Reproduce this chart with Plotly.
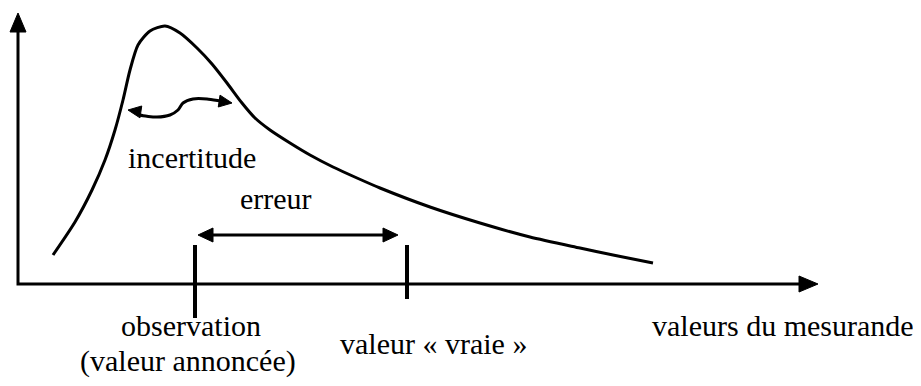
import numpy as np
import plotly.graph_objects as go

# Diagram coordinates (pixel-like units, y downward)
curve_x = [53, 75, 92, 105, 115, 123, 130, 138, 150, 165, 180, 197, 212, 227, 242, 255, 270, 290, 310, 333, 357, 380, 430, 480, 530, 580, 613, 653]
curve_y = [255, 222, 190, 160, 130, 100, 70, 45, 31, 26, 33, 48, 64, 83, 103, 118, 130, 143, 155, 167, 178, 188, 207, 223, 237, 248, 255, 263]

axis_x = [18, 18, 800]
axis_y = [30, 284, 284]

unc_x = [133, 140, 157, 170, 178, 183, 193, 207, 220, 226]
unc_y = [111, 115, 117, 115, 110, 103, 99, 99, 101, 102]

err_x = [212, 384]
err_y = [235, 235]

obs_tick_x = [195, 195]
obs_tick_y = [245, 318]
true_tick_x = [407, 407]
true_tick_y = [245, 299]

labels = ["incertitude", "erreur", "observation", "(valeur annoncée)", "valeur « vraie »", "valeurs du mesurande"]
label_x = [192, 276, 191, 188, 433, 783]
label_y = [157, 198, 325, 361, 343, 325]

BLACK = "#000000"
OFFSET = 8  # page body margin
FONT = "'Liberation Serif', 'Times New Roman', 'DejaVu Serif', serif"
fig = go.Figure()


def add_line(x, y, width=3, shape="linear"):
    fig.add_trace(go.Scatter(x=x, y=y, mode="lines", hoverinfo="skip",
                             line=dict(color=BLACK, width=width, shape=shape, smoothing=0.7)))


def add_head(tip, direction, L=19, W=8):
    d = np.array(direction, float)
    d /= np.linalg.norm(d)
    p = np.array([-d[1], d[0]])
    t = np.array(tip, float)
    b = t - d * L
    pts = [t, b + p * W, b - p * W, t]
    fig.add_trace(go.Scatter(x=[q[0] for q in pts], y=[q[1] for q in pts], mode="lines",
                             fill="toself", fillcolor=BLACK, line=dict(color=BLACK, width=1),
                             hoverinfo="skip"))


add_line(axis_x, axis_y, 3)
add_head((axis_x[0], 13), (0, -1))
add_head((818, axis_y[-1]), (1, 0))

add_line(curve_x, curve_y, 3, "spline")

add_line(unc_x, unc_y, 3, "spline")
add_head((128, 110), (-1, -0.15), L=13, W=6)
add_head((232, 103), (1, 0.15), L=13, W=6)

add_line(err_x, err_y, 3)
add_head((198, 235), (-1, 0), L=15, W=7)
add_head((398, 235), (1, 0), L=15, W=7)

add_line(obs_tick_x, obs_tick_y, 4)
add_line(true_tick_x, true_tick_y, 4)

for t, x, y in zip(labels, label_x, label_y):
    fig.add_annotation(x=x, y=y, text=t, showarrow=False, xanchor="center", yanchor="middle",
                       font=dict(family=FONT, size=30, color=BLACK))

fig.update_layout(
    width=921, height=386, margin=dict(l=0, r=0, t=0, b=0),
    paper_bgcolor="white", plot_bgcolor="white", showlegend=False,
    font=dict(family=FONT),
    xaxis=dict(range=[OFFSET, 921 + OFFSET], visible=False, fixedrange=True),
    yaxis=dict(range=[386 + OFFSET, OFFSET], visible=False, fixedrange=True),
)
fig.write_html("out.html")
